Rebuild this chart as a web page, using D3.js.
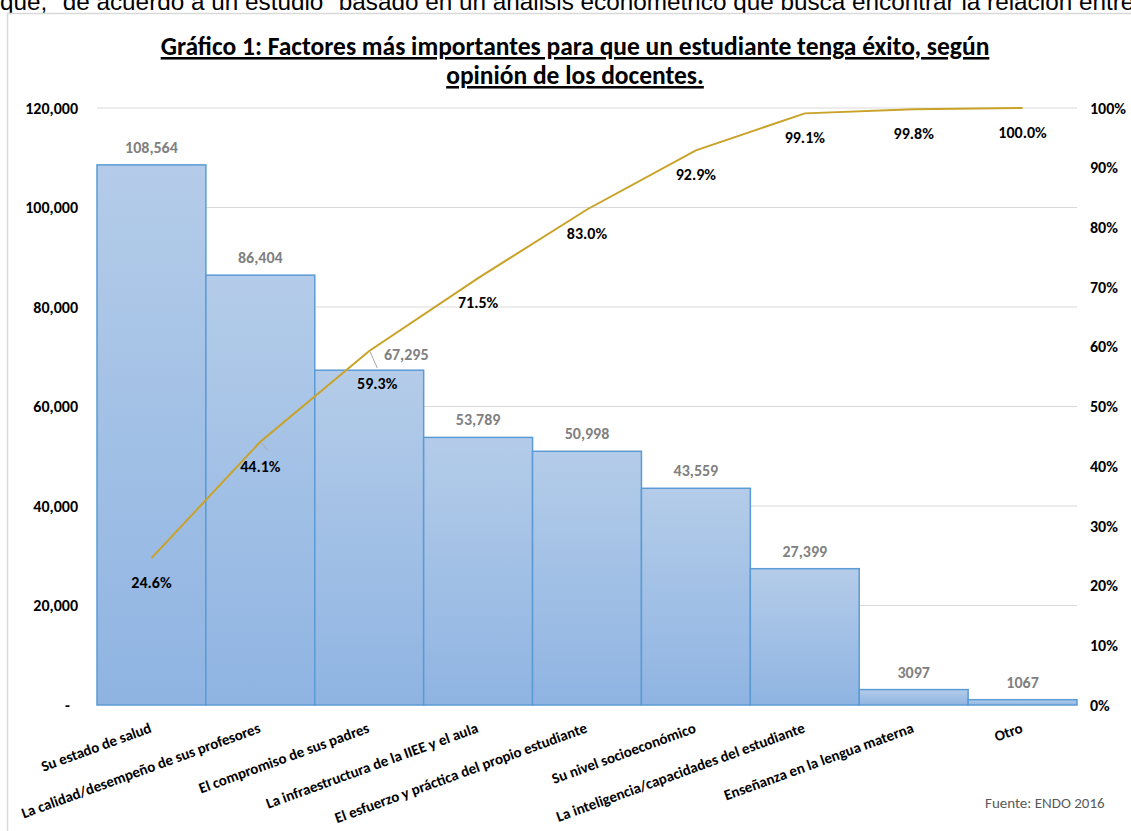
<!DOCTYPE html>
<meta charset="utf-8">
<head>
  <title>Gráfico 1</title>
  <style>
    body { margin: 0; background: #fff; }
    svg text { font-family: Carlito, Lato, "Open Sans", sans-serif; }
  </style>
</head>
<body>
  <script src="https://d3js.org/d3.v7.min.js"></script>
  <div id="my_dataviz"></div>

  <script>
    // data
    var categories = [
      "Su estado de salud",
      "La calidad/desempeño de sus profesores",
      "El compromiso de sus padres",
      "La infraestructura de la IIEE y el aula",
      "El esfuerzo y práctica del propio estudiante",
      "Su nivel socioeconómico",
      "La inteligencia/capacidades del estudiante",
      "Enseñanza en la lengua materna",
      "Otro"
    ];
    var values = [108564, 86404, 67295, 53789, 50998, 43559, 27399, 3097, 1067];
    var valueLabels = ["108,564", "86,404", "67,295", "53,789", "50,998", "43,559", "27,399", "3097", "1067"];
    var cumulative = [24.6, 44.1, 59.3, 71.5, 83.0, 92.9, 99.1, 99.8, 100.0];
    var leftTicks = [0, 20000, 40000, 60000, 80000, 100000, 120000];
    var leftTickLabels = ["-", "20,000", "40,000", "60,000", "80,000", "100,000", "120,000"];
    var rightTicks = [0, 10, 20, 30, 40, 50, 60, 70, 80, 90, 100];

    // a couple of labels were dragged by hand in the original
    var pctNudge = {1: [0, 0, true], 2: [8, 8, true]};
    var valNudge = {2: [37, 2]};

    var W = 1131, H = 831;
    var plot = {left: 97, right: 1077, top: 108, bottom: 705};

    var svg = d3.select("#my_dataviz")
      .append("svg")
        .attr("width", W)
        .attr("height", H);

    svg.append("rect")
      .attr("width", W).attr("height", H)
      .attr("fill", "#fff");

    // bit of the surrounding document text, cut at the top
    svg.append("text")
      .attr("x", 0)
      .attr("y", 10)
      .style("font-family", "'Liberation Sans', Arial, sans-serif")
      .style("font-size", "24.3px")
      .attr("fill", "#000")
      .text('que, "de acuerdo a un estudio" basado en un análisis econométrico que busca encontrar la relación entre');

    // chart frame
    svg.append("rect")
      .attr("x", 7.5).attr("y", 13.5)
      .attr("width", W + 20).attr("height", H + 20)
      .attr("fill", "#fff")
      .attr("stroke", "#d9d9d9")
      .attr("stroke-width", 1.5);

    // gradient for the bars
    var grad = svg.append("defs").append("linearGradient")
      .attr("id", "barGrad")
      .attr("x1", 0).attr("y1", 0).attr("x2", 0).attr("y2", 1);
    grad.append("stop").attr("offset", "0%").attr("stop-color", "#b4cce9");
    grad.append("stop").attr("offset", "100%").attr("stop-color", "#8fb4e2");

    // scales
    var x = d3.scaleBand()
      .domain(categories)
      .range([plot.left, plot.right])
      .padding(0);

    var y = d3.scaleLinear()
      .domain([0, 120000])
      .range([plot.bottom, plot.top]);

    var y2 = d3.scaleLinear()
      .domain([0, 100])
      .range([plot.bottom, plot.top]);

    // gridlines
    svg.append("g")
      .selectAll("line")
      .data(leftTicks.slice(1))
      .enter()
      .append("line")
        .attr("x1", plot.left)
        .attr("x2", plot.right)
        .attr("y1", function(d) { return y(d); })
        .attr("y2", function(d) { return y(d); })
        .attr("stroke", "#d9d9d9")
        .attr("stroke-width", 1);

    // left axis
    var yAxis = svg.append("g")
      .attr("transform", "translate(" + (plot.left - 19) + ",0)")
      .call(d3.axisLeft(y)
        .tickValues(leftTicks)
        .tickSize(0)
        .tickPadding(0)
        .tickFormat(function(d, i) { return leftTickLabels[i]; }));
    yAxis.select(".domain").remove();
    yAxis.selectAll("text")
      .style("font-size", "16px")
      .style("font-weight", "bold")
      .attr("fill", "#000");
    yAxis.selectAll(".tick text")
      .filter(function(d) { return d === 0; })
      .attr("dx", "-8px");

    // right axis
    var yAxis2 = svg.append("g")
      .attr("transform", "translate(" + (plot.right + 13) + ",0)")
      .call(d3.axisRight(y2)
        .tickValues(rightTicks)
        .tickSize(0)
        .tickPadding(0)
        .tickFormat(function(d) { return d + "%"; }));
    yAxis2.select(".domain").remove();
    yAxis2.selectAll("text")
      .style("font-size", "16px")
      .style("font-weight", "bold")
      .attr("fill", "#000");

    // bars
    svg.append("g")
      .selectAll("rect")
      .data(values)
      .enter()
      .append("rect")
        .attr("x", function(d, i) { return x(categories[i]); })
        .attr("y", function(d) { return y(d); })
        .attr("width", x.bandwidth())
        .attr("height", function(d) { return y(0) - y(d); })
        .attr("fill", "url(#barGrad)")
        .attr("stroke", "#5b9bd5")
        .attr("stroke-width", 1.5);

    // bar value labels
    svg.append("g")
      .selectAll("text")
      .data(values)
      .enter()
      .append("text")
        .attr("x", function(d, i) {
          var n = valNudge[i] || [0, 0];
          return x(categories[i]) + x.bandwidth() / 2 + n[0];
        })
        .attr("y", function(d, i) {
          var n = valNudge[i] || [0, 0];
          return y(d) - 12 + n[1];
        })
        .attr("text-anchor", "middle")
        .style("font-size", "16px")
        .style("font-weight", "bold")
        .attr("fill", "#808080")
        .text(function(d, i) { return valueLabels[i]; });

    // cumulative line
    var line = d3.line()
      .x(function(d, i) { return x(categories[i]) + x.bandwidth() / 2; })
      .y(function(d) { return y2(d); });

    svg.append("path")
      .datum(cumulative)
      .attr("d", line)
      .attr("fill", "none")
      .attr("stroke", "#c9a227")
      .attr("stroke-width", 2);

    // leader lines for the moved labels
    svg.append("g")
      .selectAll("line")
      .data(cumulative.filter(function(d, i) { return pctNudge[i] && pctNudge[i][2]; }))
      .enter()
      .append("line")
        .attr("x1", function(d) { var i = cumulative.indexOf(d); return x(categories[i]) + x.bandwidth() / 2 + 1; })
        .attr("y1", function(d) { return y2(d) + 1; })
        .attr("x2", function(d) { var i = cumulative.indexOf(d); return x(categories[i]) + x.bandwidth() / 2 + 8; })
        .attr("y2", function(d) { var i = cumulative.indexOf(d); return y2(d) + 9 + pctNudge[i][1]; })
        .attr("stroke", "#a6a6a6")
        .attr("stroke-width", 1);

    // cumulative labels
    svg.append("g")
      .selectAll("text")
      .data(cumulative)
      .enter()
      .append("text")
        .attr("x", function(d, i) {
          var n = pctNudge[i] || [0, 0];
          return x(categories[i]) + x.bandwidth() / 2 + n[0];
        })
        .attr("y", function(d, i) {
          var n = pctNudge[i] || [0, 0];
          return y2(d) + 30 + n[1];
        })
        .attr("text-anchor", "middle")
        .style("font-size", "16px")
        .style("font-weight", "bold")
        .attr("fill", "#000")
        .text(function(d) { return d.toFixed(1) + "%"; });

    // category labels, slanted
    svg.append("g")
      .selectAll("text")
      .data(categories)
      .enter()
      .append("text")
        .attr("transform", function(d) {
          return "translate(" + (x(d) + x.bandwidth() / 2 + 1) + "," + (plot.bottom + 27) + ") rotate(-20)";
        })
        .attr("text-anchor", "end")
        .style("font-size", "15px")
        .style("font-weight", "bold")
        .attr("fill", "#000")
        .text(function(d) { return d; });

    // title
    var title = svg.append("text")
      .attr("text-anchor", "middle")
      .style("font-size", "25.5px")
      .style("font-weight", "bold")
      .style("text-decoration", "underline")
      .attr("fill", "#000");
    title.append("tspan")
      .attr("x", 575).attr("y", 55)
      .text("Gráfico 1: Factores más importantes para que un estudiante tenga éxito, según");
    title.append("tspan")
      .attr("x", 575).attr("y", 84)
      .text("opinión de los docentes.");

    // source
    svg.append("text")
      .attr("x", 985)
      .attr("y", 808)
      .style("font-size", "15px")
      .attr("fill", "#595959")
      .text("Fuente: ENDO 2016");
  </script>
</body>
